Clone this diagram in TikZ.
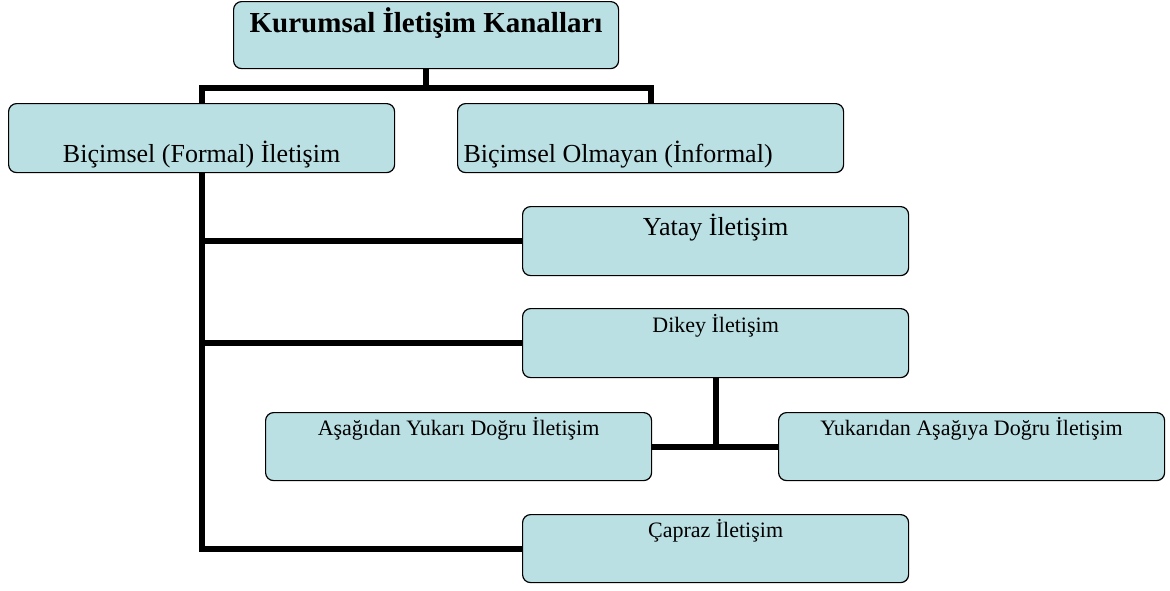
\documentclass[tikz,border=0pt]{standalone}
\usepackage{fontspec}
\setmainfont{Liberation Serif}
\definecolor{kanal}{RGB}{187,224,227}

\begin{document}
\begin{tikzpicture}[x=1pt,y=-1pt,
    kutu/.style={draw=black, line width=1.2pt, fill=kanal, rounded corners=8pt,
      inner xsep=0pt, inner ysep=0pt, minimum width=386pt, anchor=north west},
    buyuk/.style={font=\fontsize{26}{31}\selectfont},
    kucuk/.style={font=\fontsize{22}{26}\selectfont},
    hat/.style={line width=6pt}]
    \useasboundingbox (0,0) rectangle (1170,590);

    % Ana başlık
    \node[kutu, minimum width=385pt, font=\bfseries\fontsize{29}{35}\selectfont,
      text height=31pt, text depth=36pt] (baslik) at (233,1) {Kurumsal İletişim Kanalları};

    % Biçimsel ve biçimsel olmayan
    \node[kutu, buyuk, text height=59pt, text depth=10pt] (bicimsel) at (8,103) {Biçimsel (Formal) İletişim};
    \node[kutu, buyuk, text width=374pt, inner xsep=6pt, align=flush left,
      text height=59pt, text depth=10pt] (informal) at (457,103) {Biçimsel Olmayan (İnformal)};

    % Biçimsel iletişimin kolları
    \node[kutu, buyuk, text height=29pt, text depth=40pt] (yatay) at (522,206) {Yatay İletişim};
    \node[kutu, kucuk, text height=24pt, text depth=45pt] (dikey) at (522,308) {Dikey İletişim};
    \node[kutu, kucuk, text height=23pt, text depth=45pt] (asagidan) at (265,412) {Aşağıdan Yukarı Doğru İletişim};
    \node[kutu, kucuk, text height=23pt, text depth=45pt] (yukaridan) at (778,412) {Yukarıdan Aşağıya Doğru İletişim};
    \node[kutu, kucuk, text height=23pt, text depth=45pt] (capraz) at (522,514) {Çapraz İletişim};

    % Bağlantılar
    \draw[hat] (baslik.south) -- ++(0,19) coordinate (catal);
    \draw[hat] (bicimsel.north) |- (catal) -| (informal.north);
    \draw[hat] (bicimsel.south) |- (capraz.west);
    \draw[hat] (bicimsel.south |- yatay.west) -- (yatay.west);
    \draw[hat] (bicimsel.south |- dikey.west) -- (dikey.west);
    \draw[hat] (dikey.south) |- (asagidan.east);
    \draw[hat] (asagidan.east) -- (yukaridan.west);
\end{tikzpicture}
\end{document}
